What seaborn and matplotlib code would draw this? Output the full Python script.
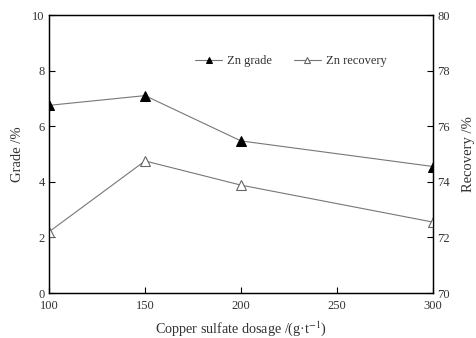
import matplotlib
matplotlib.use("Agg")
import matplotlib.pyplot as plt
import seaborn as sns
import pandas as pd

dosage = [100, 150, 200, 300]
zn_grade = [6.75, 7.1, 5.47, 4.55]
zn_recovery = [72.2, 74.75, 73.88, 72.55]
x_ticks = [100, 150, 200, 250, 300]

sns.set_style("ticks")
plt.rcParams['font.family'] = ['Liberation Serif', 'DejaVu Serif']
plt.rcParams['mathtext.fontset'] = 'stix'

df = pd.DataFrame({"dosage": dosage, "grade": zn_grade, "recovery": zn_recovery})

fig = plt.figure(figsize=(4.76, 3.38), dpi=100)
ax = fig.add_axes([49/476, 1-293/338, (433-49)/476, (293-15)/338])
ax2 = ax.twinx()

txt = "#333333"
line_c = "#777777"

sns.lineplot(data=df, x="dosage", y="grade", ax=ax, color=line_c, lw=0.8,
             marker="^", markersize=6.5, markerfacecolor="black", markeredgecolor="black",
             label="Zn grade", legend=False)
sns.lineplot(data=df, x="dosage", y="recovery", ax=ax2, color=line_c, lw=0.8,
             marker="^", markersize=6.5, markerfacecolor="white", markeredgecolor="#666666",
             markeredgewidth=0.8, label="Zn recovery", legend=False)

ax.set_xlim(100, 300)
ax.set_ylim(0, 10)
ax2.set_ylim(70, 80)
ax.set_xticks(x_ticks)
ax.set_yticks([0, 2, 4, 6, 8, 10])
ax2.set_yticks([70, 72, 74, 76, 78, 80])

for a in (ax, ax2):
    for s in a.spines.values():
        s.set_color("black")
        s.set_linewidth(0.9)
    a.tick_params(direction="in", length=4, width=0.8, labelsize=9, colors="black", labelcolor=txt, pad=3)
ax.tick_params(axis="x", pad=5)

ax.set_xlabel("Copper sulfate dosage /(g·t$^{-1}$)", fontsize=10.2, color=txt, labelpad=5)
ax.set_ylabel("Grade /%", fontsize=10.5, color=txt, labelpad=6)
ax2.set_ylabel("Recovery /%", fontsize=10.5, color=txt, labelpad=9)

h1, l1 = ax.get_legend_handles_labels()
h2, l2 = ax2.get_legend_handles_labels()
leg = ax.legend(h1 + h2, l1 + l2, loc="upper left", bbox_to_anchor=(0.367, 0.874), ncol=2,
                frameon=False, fontsize=9, handlelength=2.2, handletextpad=0.4, columnspacing=1.7,
                borderaxespad=0, markerscale=0.75)
for t in leg.get_texts():
    t.set_color(txt)

fig.savefig("out.png", dpi=100)
